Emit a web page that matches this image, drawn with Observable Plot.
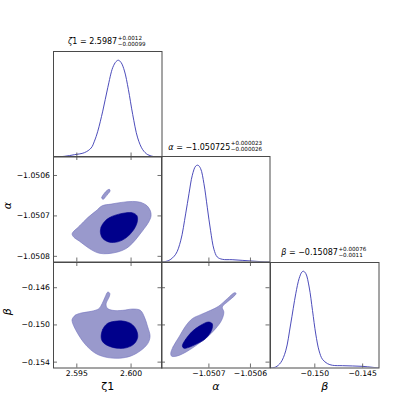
<!DOCTYPE html>
<html><head><meta charset="utf-8">
<script src="https://cdn.jsdelivr.net/npm/d3@7"></script>
<script src="https://cdn.jsdelivr.net/npm/@observablehq/plot@0.6"></script>
<style>
html,body{margin:0;padding:0;background:#fff;}
#chart{position:relative;width:420px;height:420px;overflow:hidden;font-family:"DejaVu Sans",sans-serif;background:#fff;}
.ttl{position:absolute;font-size:8px;white-space:nowrap;transform:translateX(-50%);display:flex;align-items:center;color:#000;height:12px;}
.scr{display:inline-flex;flex-direction:column;font-size:5.6px;line-height:5.6px;margin-left:0.5px;}
</style></head><body><div id="chart"></div>
<script>
// ---------- data ----------
const paramNames = ["ζ1", "α", "β"];
const medians = ["2.5987", "−1.050725", "−0.15087"];
const plusErr = ["+0.0012", "+0.000023", "+0.00076"];
const minusErr = ["−0.00099", "−0.000026", "−0.0011"];

const zeta1Ticks = [2.595, 2.600];
const alphaXTicks = [-1.0507, -1.0506];
const alphaYTicks = [-1.0508, -1.0507, -1.0506];
const betaXTicks = [-0.150, -0.145];
const betaYTicks = [-0.154, -0.150, -0.146];

const zeta1Range = [2.59285, 2.60285];
const alphaRange = [-1.050814, -1.050553];
const betaRange = [-0.15463, -0.14329];

// marginal densities (peak-normalised)
const zeta1Grid = [2.59285, 2.59386, 2.59478, 2.59570, 2.59632, 2.59662, 2.59693, 2.59739, 2.59785, 2.59831, 2.59862, 2.59883, 2.59908, 2.59939, 2.59975, 2.60015, 2.60061, 2.60107, 2.60154, 2.60215, 2.60270];
const zeta1Dens = [0, 0.007, 0.024, 0.045, 0.093, 0.163, 0.266, 0.474, 0.716, 0.924, 0.986, 1.0, 0.976, 0.889, 0.699, 0.439, 0.197, 0.076, 0.024, 0.003, 0];

const alphaGrid = [-1.0508118, -1.0507958, -1.0507799, -1.0507679, -1.0507559, -1.0507479, -1.0507399, -1.0507319, -1.0507263, -1.0507199, -1.0507119, -1.0507039, -1.0506959, -1.0506879, -1.0506799, -1.0506679, -1.050644, -1.05062, -1.050596, -1.050572, -1.050555];
const alphaDens = [0, 0.017, 0.080, 0.219, 0.497, 0.705, 0.896, 0.990, 1, 0.965, 0.809, 0.566, 0.323, 0.132, 0.052, 0.028, 0.024, 0.017, 0.010, 0.003, 0];

const betaGrid = [-0.15460, -0.15409, -0.15356, -0.15304, -0.15252, -0.15199, -0.15164, -0.15136, -0.15119, -0.15094, -0.15059, -0.15024, -0.14990, -0.14955, -0.14920, -0.14867, -0.14815, -0.14710, -0.14605, -0.14500, -0.14396, -0.14330];
const betaDens = [0, 0.010, 0.056, 0.177, 0.455, 0.767, 0.924, 0.990, 1, 0.976, 0.837, 0.594, 0.351, 0.177, 0.090, 0.045, 0.028, 0.024, 0.021, 0.017, 0.007, 0];

// 2D credible-region outlines
const zaOuterZeta = [2.594567, 2.595242, 2.59601, 2.596777, 2.59733, 2.598158, 2.599079, 2.600154, 2.600921, 2.601473, 2.60178, 2.601842, 2.601627, 2.601227, 2.600675, 2.600154, 2.59954, 2.598772, 2.597852, 2.597084, 2.596471, 2.595856, 2.595242, 2.594721];
const zaOuterAlpha = [-1.0507442, -1.050725, -1.0507042, -1.0506875, -1.050675, -1.0506708, -1.0506667, -1.0506642, -1.0506667, -1.050675, -1.0506875, -1.0507, -1.050715, -1.0507308, -1.05075, -1.0507667, -1.0507808, -1.0507892, -1.0507933, -1.0507925, -1.0507858, -1.050775, -1.0507625, -1.0507525];
const zaIslandZeta = [2.59736, 2.5973, 2.597483, 2.59779, 2.598005, 2.598066, 2.597913, 2.597606, 2.597422];
const zaIslandAlpha = [-1.0506583, -1.0506542, -1.0506458, -1.0506367, -1.0506342, -1.0506383, -1.0506442, -1.0506542, -1.0506592];
const zaInnerZeta = [2.597176, 2.597238, 2.597544, 2.598005, 2.598619, 2.599448, 2.600154, 2.600552, 2.600552, 2.600154, 2.59954, 2.598772, 2.598005, 2.597391];
const zaInnerAlpha = [-1.0507417, -1.0507275, -1.0507142, -1.0507042, -1.0506975, -1.0506925, -1.0506925, -1.0507, -1.0507167, -1.0507375, -1.0507542, -1.0507642, -1.050765, -1.0507558];

const zbOuterZeta = [2.594567, 2.594843, 2.595396, 2.596317, 2.597023, 2.59733, 2.597606, 2.597852, 2.598036, 2.597974, 2.597698, 2.59779, 2.598312, 2.599233, 2.600154, 2.600859, 2.601227, 2.601535, 2.60175, 2.601535, 2.600921, 2.6, 2.598925, 2.597852, 2.596931, 2.596255, 2.595642, 2.595089, 2.59469, 2.594567];
const zbOuterBeta = [-0.1494, -0.14897, -0.14872, -0.148542, -0.148255, -0.147719, -0.147005, -0.146469, -0.146611, -0.147005, -0.147719, -0.148184, -0.148434, -0.148434, -0.148292, -0.148434, -0.14915, -0.150222, -0.151222, -0.152009, -0.152724, -0.153332, -0.153582, -0.15351, -0.153188, -0.152652, -0.151901, -0.150936, -0.150043, -0.149614];
const zbInnerZeta = [2.597238, 2.597391, 2.59779, 2.598465, 2.599233, 2.6, 2.60046, 2.600614, 2.600307, 2.599632, 2.598711, 2.597913, 2.597391];
const zbInnerBeta = [-0.151294, -0.150472, -0.149864, -0.149614, -0.149579, -0.149864, -0.150472, -0.151294, -0.152009, -0.152437, -0.152509, -0.15226, -0.151831];

const abOuterAlpha = [-1.0507918, -1.0507863, -1.0507719, -1.0507559, -1.0507399, -1.0507199, -1.0506959, -1.0506759, -1.0506559, -1.0506384, -1.0506344, -1.0506376, -1.0506559, -1.0506679, -1.050664, -1.0506695, -1.0506839, -1.0507039, -1.0507279, -1.0507519, -1.0507759, -1.0507894];
const abOuterBeta = [-0.153081, -0.152367, -0.151294, -0.150115, -0.149328, -0.148899, -0.148434, -0.14797, -0.147183, -0.14654, -0.146611, -0.146826, -0.147541, -0.148077, -0.148613, -0.149507, -0.1504, -0.151294, -0.152116, -0.152831, -0.153332, -0.153367];
const abInnerAlpha = [-1.0507639, -1.0507559, -1.0507399, -1.0507199, -1.0507015, -1.0506919, -1.0506935, -1.0507079, -1.0507279, -1.0507479, -1.0507599];
const abInnerBeta = [-0.15226, -0.151544, -0.150686, -0.150043, -0.149686, -0.149864, -0.150579, -0.151472, -0.152009, -0.152402, -0.152509];

// ---------- layout ----------
const M = 60, W = 108.5, H = 105.5;
const colLeft = [52.5, 161, 269.5];
const rowTop = [50.5, 156, 261.5];
const SP = "#4a4a4a";
const TL = 4;
const FS = 7.7;
const CURVE = "#3838b2";
const OUTER = "#9999cc", OUTER_EDGE = "#7373bd", INNER = "#00008b";
const chart = document.getElementById("chart");

const pts = (xs, ys) => xs.map((x, i) => ({x, y: ys[i]}));
const f3 = d3.format(".3f"), f4 = d3.format(".4f");

const ticksBottom = t => Plot.tickX(t, {x: d => d, insetTop: H - TL, stroke: SP, strokeWidth: 0.8});
const ticksTop = t => Plot.tickX(t, {x: d => d, insetBottom: H - TL, stroke: SP, strokeWidth: 0.8});
const ticksLeft = t => Plot.tickY(t, {y: d => d, insetRight: W - TL, stroke: SP, strokeWidth: 0.8});
const ticksRight = t => Plot.tickY(t, {y: d => d, insetLeft: W - TL, stroke: SP, strokeWidth: 0.8});
const labelsBottom = (t, f) => Plot.text(t, {x: d => d, frameAnchor: "bottom", dy: 3, lineAnchor: "top", text: d => f(d), fontSize: FS, fill: "#000"});
const labelsLeft = (t, f) => Plot.text(t, {y: d => d, frameAnchor: "left", dx: -3.5, textAnchor: "end", text: d => f(d), fontSize: FS, fill: "#000"});
const nameBottom = (name, italic) => Plot.text([name], {frameAnchor: "bottom", dy: 22, text: d => d, fontSize: 11, fontStyle: italic ? "italic" : "normal", fill: "#000"});
const nameLeft = (name) => Plot.text([name], {frameAnchor: "left", dx: -46, rotate: -90, text: d => d, fontSize: 11, fontStyle: "italic", fill: "#000"});

function panel(col, row, xd, yd, marks) {
  const p = Plot.plot({
    width: W + 2 * M, height: H + 2 * M,
    marginLeft: M, marginRight: M, marginTop: M, marginBottom: M,
    x: {domain: xd, axis: null}, y: {domain: yd, axis: null},
    style: {background: "transparent", overflow: "visible", fontFamily: "DejaVu Sans", color: "black"},
    marks: [...marks, Plot.frame({stroke: SP, strokeWidth: 1})]
  });
  p.style.position = "absolute";
  p.style.left = (colLeft[col] - M) + "px";
  p.style.top = (rowTop[row] - M) + "px";
  chart.appendChild(p);
}

function title(i) {
  const d = document.createElement("div");
  d.className = "ttl";
  d.style.left = (colLeft[i] + W / 2) + "px";
  d.style.top = (rowTop[i] - 15) + "px";
  const n = paramNames[i];
  const nameHtml = n === "ζ1" ? "<i>ζ</i>1" : "<i>" + n + "</i>";
  d.innerHTML = `<span>${nameHtml}&nbsp;=&nbsp;${medians[i]}</span><span class="scr"><span>${plusErr[i]}</span><span>${minusErr[i]}</span></span>`;
  chart.appendChild(d);
}

const densY = [0, 1.09];
const marg = (g, dd) => Plot.line(pts(g, dd), {x: "x", y: "y", stroke: CURVE, strokeWidth: 0.9, curve: "catmull-rom", clip: true});
const region = (xs, ys, fill, stroke) => Plot.line(pts(xs, ys), {x: "x", y: "y", fill, stroke, strokeWidth: 0.6, curve: "catmull-rom-closed", clip: true});

// diagonal
panel(0, 0, zeta1Range, densY, [marg(zeta1Grid, zeta1Dens), ticksBottom(zeta1Ticks)]);
panel(1, 1, alphaRange, densY, [marg(alphaGrid, alphaDens), ticksBottom(alphaXTicks)]);
panel(2, 2, betaRange, densY, [marg(betaGrid, betaDens), ticksBottom(betaXTicks),
  labelsBottom(betaXTicks, f3), nameBottom("β", true)]);

// zeta1 vs alpha
panel(0, 1, zeta1Range, alphaRange, [
  region(zaOuterZeta, zaOuterAlpha, OUTER, OUTER_EDGE),
  region(zaIslandZeta, zaIslandAlpha, OUTER, OUTER_EDGE),
  region(zaInnerZeta, zaInnerAlpha, INNER, INNER),
  ticksBottom(zeta1Ticks), ticksTop(zeta1Ticks), ticksLeft(alphaYTicks), ticksRight(alphaYTicks),
  labelsLeft(alphaYTicks, f4), nameLeft("α")
]);
// zeta1 vs beta
panel(0, 2, zeta1Range, betaRange, [
  region(zbOuterZeta, zbOuterBeta, OUTER, OUTER_EDGE),
  region(zbInnerZeta, zbInnerBeta, INNER, INNER),
  ticksBottom(zeta1Ticks), ticksTop(zeta1Ticks), ticksLeft(betaYTicks), ticksRight(betaYTicks),
  labelsLeft(betaYTicks, f3), labelsBottom(zeta1Ticks, f3), nameLeft("β"), nameBottom("ζ1", false)
]);
// alpha vs beta
panel(1, 2, alphaRange, betaRange, [
  region(abOuterAlpha, abOuterBeta, OUTER, OUTER_EDGE),
  region(abInnerAlpha, abInnerBeta, INNER, INNER),
  ticksBottom(alphaXTicks), ticksTop(alphaXTicks), ticksLeft(betaYTicks), ticksRight(betaYTicks),
  labelsBottom(alphaXTicks, f4), nameBottom("α", true)
]);

[0, 1, 2].forEach(title);
</script></body></html>
